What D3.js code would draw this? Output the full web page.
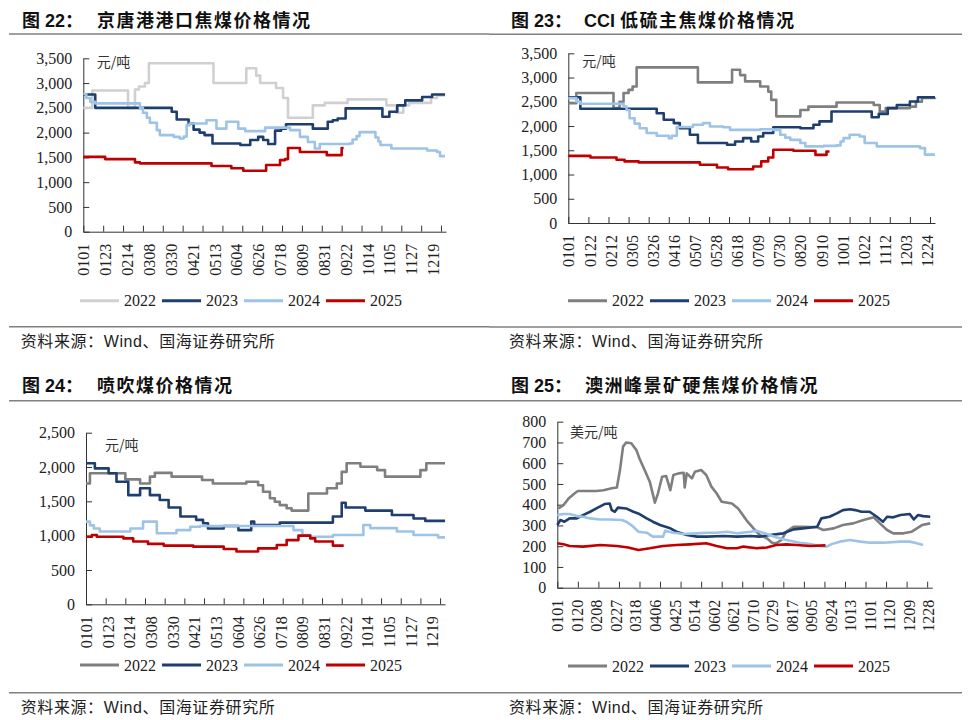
<!DOCTYPE html>
<html>
<head>
<meta charset="utf-8">
<script src="https://cdn.jsdelivr.net/npm/d3@7"></script>
<style>
  body { margin: 0; background: #fff; }
  svg { display: block; }
</style>
</head>
<body>
<div id="chart"></div>
<script>
/**
 * CONSTANTS
 * */
const width = 978, height = 720;
const serif = "'Liberation Serif', 'Times New Roman', serif";
const mixed = "'Liberation Sans', Arial, 'Noto Sans CJK SC', sans-serif";
const cjk = "'Noto Sans CJK SC', sans-serif";

const years = ["2022", "2023", "2024", "2025"];

// x values below are day of year (0 = 0101), y values are prices
// tick labels, one per category step
const labels22 = ["0101","0123","0214","0308","0330","0421","0513","0604","0626","0718","0809","0831","0922","1014","1105","1127","1219"];
const labels21 = ["0101","0122","0212","0305","0326","0416","0507","0528","0618","0709","0730","0820","0910","1001","1022","1112","1203","1224"];
const labels19 = ["0101","0120","0208","0227","0318","0406","0425","0514","0602","0621","0710","0729","0817","0905","0924","1013","1101","1120","1209","1228"];

// 图22 京唐港港口焦煤 (元/吨)
const jt2022 = [[0,2500],[9,2850],[45,2500],[52,2870],[56,2930],[62,3000],[66,3400],[131,3000],[164,3300],[174,3150],[178,3000],[194,2900],[201,2700],[206,2300],[231,2550],[243,2600],[266,2670],[305,2550],[315,2400],[322,2550],[328,2600],[350,2700],[356,2750],[364,2750]];
const jt2023 = [[0,2770],[12,2500],[89,2420],[94,2265],[106,2185],[111,2060],[117,2000],[122,1950],[130,1780],[158,1750],[168,1850],[176,1915],[181,1850],[186,1770],[193,2040],[199,2080],[204,2170],[231,2080],[246,2220],[251,2250],[256,2285],[264,2490],[301,2320],[308,2420],[316,2550],[324,2650],[341,2720],[351,2770],[364,2770]];
const jt2024 = [[0,2780],[3,2700],[7,2620],[12,2590],[57,2500],[60,2400],[64,2300],[67,2200],[74,2050],[77,1950],[91,1915],[97,1880],[101,1920],[104,2150],[107,2185],[124,2250],[134,2080],[144,2220],[156,2080],[163,2030],[183,2100],[198,2100],[208,2050],[218,1915],[226,1810],[233,1680],[238,1770],[268,1780],[271,1860],[275,1930],[278,2010],[290,2010],[294,1900],[297,1820],[299,1750],[310,1680],[346,1640],[356,1610],[359,1525],[364,1525]];
const jt2025 = [[0,1510],[22,1465],[52,1400],[57,1380],[129,1325],[149,1280],[161,1230],[184,1345],[198,1445],[203,1465],[206,1690],[218,1610],[245,1545],[260,1690],[262,1690]];

// 图23 CCI 低硫主焦煤 (元/吨)
const cci2022 = [[0,2470],[8,2680],[45,2370],[51,2500],[55,2680],[60,2745],[64,2815],[68,3210],[129,2900],[163,3160],[171,3050],[176,2920],[191,2815],[199,2710],[202,2540],[207,2200],[231,2330],[239,2400],[267,2485],[304,2435],[310,2300],[316,2370],[340,2400],[346,2500],[352,2580],[365,2590]];
const cci2023 = [[0,2595],[12,2355],[88,2265],[95,2130],[105,2060],[111,1955],[121,1820],[129,1650],[158,1615],[166,1680],[174,1750],[182,1680],[189,1785],[194,1855],[204,1975],[231,1955],[244,2025],[250,2095],[262,2300],[302,2180],[309,2250],[318,2370],[327,2435],[340,2505],[348,2595],[365,2595]];
const cci2024 = [[0,2575],[8,2505],[12,2460],[51,2460],[55,2400],[58,2330],[61,2160],[66,2050],[71,1955],[78,1855],[88,1800],[100,1750],[103,1800],[108,1980],[124,2025],[134,2060],[141,1990],[154,1975],[161,1920],[191,1935],[204,1920],[211,1820],[216,1760],[221,1715],[231,1650],[236,1580],[254,1590],[267,1600],[271,1680],[274,1750],[280,1820],[290,1785],[295,1650],[307,1580],[350,1545],[355,1410],[365,1410]];
const cci2025 = [[0,1385],[22,1350],[48,1305],[56,1270],[70,1250],[131,1200],[148,1145],[159,1110],[184,1165],[192,1270],[199,1350],[204,1510],[224,1490],[246,1405],[257,1475],[260,1475]];

// 图24 喷吹煤 (元/吨)
const pc2022 = [[0,1760],[4,1910],[40,1820],[55,1760],[65,1860],[70,1915],[87,1860],[118,1810],[129,1760],[163,1785],[175,1735],[180,1640],[187,1545],[192,1495],[197,1445],[204,1400],[209,1365],[226,1615],[245,1690],[255,1760],[260,1930],[265,2055],[279,2005],[296,1955],[304,1860],[340,1955],[346,2055],[365,2055]];
const pc2023 = [[0,2055],[9,1980],[23,1910],[31,1785],[43,1590],[55,1690],[65,1590],[75,1520],[84,1410],[96,1280],[112,1230],[119,1180],[124,1105],[140,1140],[155,1080],[168,1205],[171,1155],[197,1190],[251,1280],[260,1480],[264,1410],[284,1365],[311,1300],[333,1250],[345,1215],[365,1215]];
const pc2024 = [[0,1205],[4,1150],[8,1105],[14,1060],[45,1105],[58,1205],[68,1205],[72,1035],[92,1080],[106,1130],[116,1140],[211,1080],[220,1010],[228,985],[251,1010],[280,1010],[282,1155],[289,1110],[316,1060],[333,1010],[358,975],[365,975]];
const pc2025 = [[0,985],[6,1010],[11,985],[38,960],[48,915],[63,880],[79,855],[109,840],[140,805],[153,770],[175,815],[194,865],[204,935],[216,1000],[228,960],[233,915],[251,855],[262,855]];

// 图25 澳洲峰景矿硬焦煤 (美元/吨)
const aus2022 = [[1,382],[6,398],[11,430],[17,455],[20,466],[38,466],[45,470],[53,479],[58,483],[61,567],[64,680],[67,700],[72,696],[77,663],[80,623],[85,567],[90,511],[95,410],[98,455],[102,535],[106,538],[110,470],[113,543],[118,551],[123,554],[124,483],[126,551],[131,527],[134,559],[140,567],[145,543],[150,487],[155,455],[160,414],[170,406],[176,382],[184,326],[191,286],[197,254],[204,238],[209,217],[213,214],[218,230],[223,270],[230,294],[239,294],[253,291],[259,278],[269,286],[278,302],[288,310],[298,326],[308,339],[314,310],[321,278],[327,262],[337,262],[345,270],[350,286],[355,302],[363,310]];
const aus2023 = [[0,302],[3,326],[7,318],[12,334],[19,334],[25,350],[32,366],[38,382],[46,403],[51,406],[53,374],[56,366],[59,386],[67,382],[74,366],[80,355],[87,334],[93,318],[100,302],[110,286],[116,270],[126,254],[136,246],[145,246],[162,249],[175,246],[188,249],[197,246],[207,254],[220,262],[230,281],[239,286],[253,294],[257,334],[265,342],[272,358],[278,374],[285,378],[290,374],[296,366],[304,366],[311,342],[317,318],[321,342],[327,339],[334,350],[343,355],[347,329],[351,350],[356,345],[363,342]];
const aus2024 = [[0,350],[6,355],[12,355],[19,345],[25,342],[32,334],[42,329],[51,329],[63,326],[67,318],[72,302],[79,270],[87,265],[93,246],[103,246],[105,275],[113,265],[123,259],[136,262],[145,265],[155,265],[165,270],[175,262],[188,270],[194,275],[204,259],[213,243],[223,230],[236,217],[246,210],[256,201],[262,198],[267,210],[275,222],[285,230],[295,222],[304,217],[317,217],[334,222],[343,222],[350,214],[356,206]];
const aus2025 = [[0,214],[6,209],[12,201],[25,198],[42,206],[58,201],[69,194],[79,182],[90,190],[103,201],[116,206],[129,209],[145,214],[155,201],[165,190],[175,190],[181,198],[194,190],[204,194],[213,206],[223,209],[233,206],[246,201],[261,204]];

const colorsA = ["#d0d0d0", "#1f3e70", "#9dc3e6", "#c00000"];
const colorsB = ["#7f7f7f", "#1f3e70", "#9dc3e6", "#c00000"];

const panels = [
  { ox: 0, oy: 0, num: "图 22：", latin: "", title: "京唐港港口焦煤价格情况", titleX: 97,
    x0: 83.3, x1: 446, y0: 231.7, y1: 58.3, yMax: 3500, yStep: 500,
    labels: labels22, series: [jt2022, jt2023, jt2024, jt2025], colors: colorsA,
    unit: "元/吨", unitX: 96.7, unitY: 67, step: true,
    titleY: 27, ruleTop: 34, ruleBot: 326.7, sourceY: 347, legendY: 300.7, legendX: 80,
    ruleX0: 9, ruleX1: 489, sourceX: 20.7 },
  { ox: 489, oy: 0, num: "图 23：", latin: "CCI ", title: "低硫主焦煤价格情况", titleX: 95,
    x0: 568.3, x1: 935, y0: 223, y1: 53.3, yMax: 3500, yStep: 500,
    labels: labels21, series: [cci2022, cci2023, cci2024, cci2025], colors: colorsB,
    unit: "元/吨", unitX: 582.3, unitY: 66, step: true,
    titleY: 27, ruleTop: 34.3, ruleBot: 327, sourceY: 347, legendY: 300.7, legendX: 568,
    ruleX0: 489, ruleX1: 962, sourceX: 509 },
  { ox: 0, oy: 360, num: "图 24：", latin: "", title: "喷吹煤价格情况", titleX: 97,
    x0: 86, x1: 445, y0: 604.3, y1: 432.7, yMax: 2500, yStep: 500,
    labels: labels22, series: [pc2022, pc2023, pc2024, pc2025], colors: colorsB,
    unit: "元/吨", unitX: 105, unitY: 450, step: true,
    titleY: 392, ruleTop: 400.7, ruleBot: 692.7, sourceY: 713, legendY: 665, legendX: 80,
    ruleX0: 9, ruleX1: 489, sourceX: 20.7 },
  { ox: 489, oy: 360, num: "图 25：", latin: "", title: "澳洲峰景矿硬焦煤价格情况", titleX: 96,
    x0: 557.3, x1: 932.3, y0: 587.7, y1: 421.7, yMax: 800, yStep: 100,
    labels: labels19, series: [aus2022, aus2023, aus2024, aus2025], colors: colorsB,
    unit: "美元/吨", unitX: 570, unitY: 437, step: false,
    titleY: 392, ruleTop: 400.7, ruleBot: 692.7, sourceY: 713, legendY: 666, legendX: 568,
    ruleX0: 489, ruleX1: 962, sourceX: 509 }
];

const parseDay = d3.timeParse("%Y%m%d");
const jan1 = new Date(2022, 0, 1);
const dayOf = mmdd => d3.timeDay.count(jan1, parseDay("2022" + mmdd));

const svg = d3.select("#chart").append("svg")
  .attr("width", width)
  .attr("height", height);

panels.forEach(drawPanel);

function drawPanel(p) {
  const g = svg.append("g");
  const x = d3.scaleLinear().domain([0, 365]).range([p.x0, p.x1]);
  const y = d3.scaleLinear().domain([0, p.yMax]).range([p.y0, p.y1]);

  // title + rules
  g.append("text")
    .attr("x", p.ox + 22).attr("y", p.titleY)
    .attr("font-family", mixed).attr("font-size", 18).attr("font-weight", "bold")
    .attr("fill", "#111")
    .text(p.num);
  const t = g.append("text")
    .attr("x", p.ox + p.titleX).attr("y", p.titleY)
    .attr("font-family", mixed).attr("font-size", 18).attr("font-weight", "bold")
    .attr("fill", "#111");
  if (p.latin) t.append("tspan").text(p.latin);
  t.append("tspan").attr("letter-spacing", 1.5).text(p.title);
  [p.ruleTop, p.ruleBot].forEach(ry => {
    g.append("line")
      .attr("x1", p.ruleX0).attr("x2", p.ruleX1)
      .attr("y1", ry).attr("y2", ry)
      .attr("stroke", "#808080").attr("stroke-width", 1.6);
  });
  g.append("text")
    .attr("x", p.sourceX).attr("y", p.sourceY)
    .attr("font-family", mixed).attr("font-size", 16).attr("fill", "#222")
    .attr("letter-spacing", 0.6)
    .text("资料来源：Wind、国海证券研究所");

  // y axis
  const yAxis = g.append("g")
    .attr("transform", `translate(${p.x0},0)`)
    .call(d3.axisLeft(y)
      .tickValues(d3.range(0, p.yMax + 1, p.yStep))
      .tickSize(-6).tickSizeOuter(0).tickPadding(11)
      .tickFormat(d3.format(",")));
  yAxis.selectAll("text").attr("font-family", serif).attr("font-size", 16).attr("fill", "#222");

  // x axis ticks every 20 days
  const xAxis = g.append("g")
    .attr("transform", `translate(0,${p.y0})`)
    .call(d3.axisBottom(x)
      .tickValues(d3.range(0, 365, 20))
      .tickSize(-6).tickSizeOuter(0).tickFormat(""));

  // x labels, rotated
  const labelDays = p.labels.map(dayOf);
  const xLab = g.append("g")
    .attr("transform", `translate(0,${p.y0})`)
    .call(d3.axisBottom(x)
      .tickValues(labelDays).tickSize(0)
      .tickFormat((d, i) => p.labels[i]));
  xLab.select(".domain").remove();
  xLab.selectAll("text")
    .attr("transform", "rotate(-90)")
    .attr("text-anchor", "end")
    .attr("x", -12).attr("y", 0).attr("dy", "0.35em")
    .attr("font-family", serif).attr("font-size", 16).attr("fill", "#222");

  [yAxis, xAxis].forEach(a => a.selectAll("path, line").attr("stroke", "#333"));

  // unit label
  g.append("text")
    .attr("x", p.unitX).attr("y", p.unitY)
    .attr("font-family", cjk).attr("font-size", 14).attr("fill", "#333")
    .text(p.unit);

  // lines
  const line = d3.line()
    .x(d => x(d[0]))
    .y(d => y(d[1]))
    .curve(p.step ? d3.curveStepAfter : d3.curveLinear);
  g.append("g")
    .selectAll("path.series")
    .data(p.series)
    .join("path")
    .attr("class", "series")
    .attr("d", line)
    .attr("fill", "none")
    .attr("stroke", (d, i) => p.colors[i])
    .attr("stroke-width", 2.6)
    .attr("stroke-linejoin", "round");

  // legend
  const leg = g.append("g")
    .selectAll("g.item")
    .data(years)
    .join("g")
    .attr("class", "item")
    .attr("transform", (d, i) => `translate(${p.legendX + i * 82},${p.legendY})`);
  leg.append("line")
    .attr("x1", 0).attr("x2", 39)
    .attr("stroke", (d, i) => p.colors[i])
    .attr("stroke-width", 3);
  leg.append("text")
    .attr("x", 44).attr("dy", "0.35em")
    .attr("font-family", serif).attr("font-size", 16).attr("fill", "#222")
    .text(d => d);
}
</script>
</body>
</html>
